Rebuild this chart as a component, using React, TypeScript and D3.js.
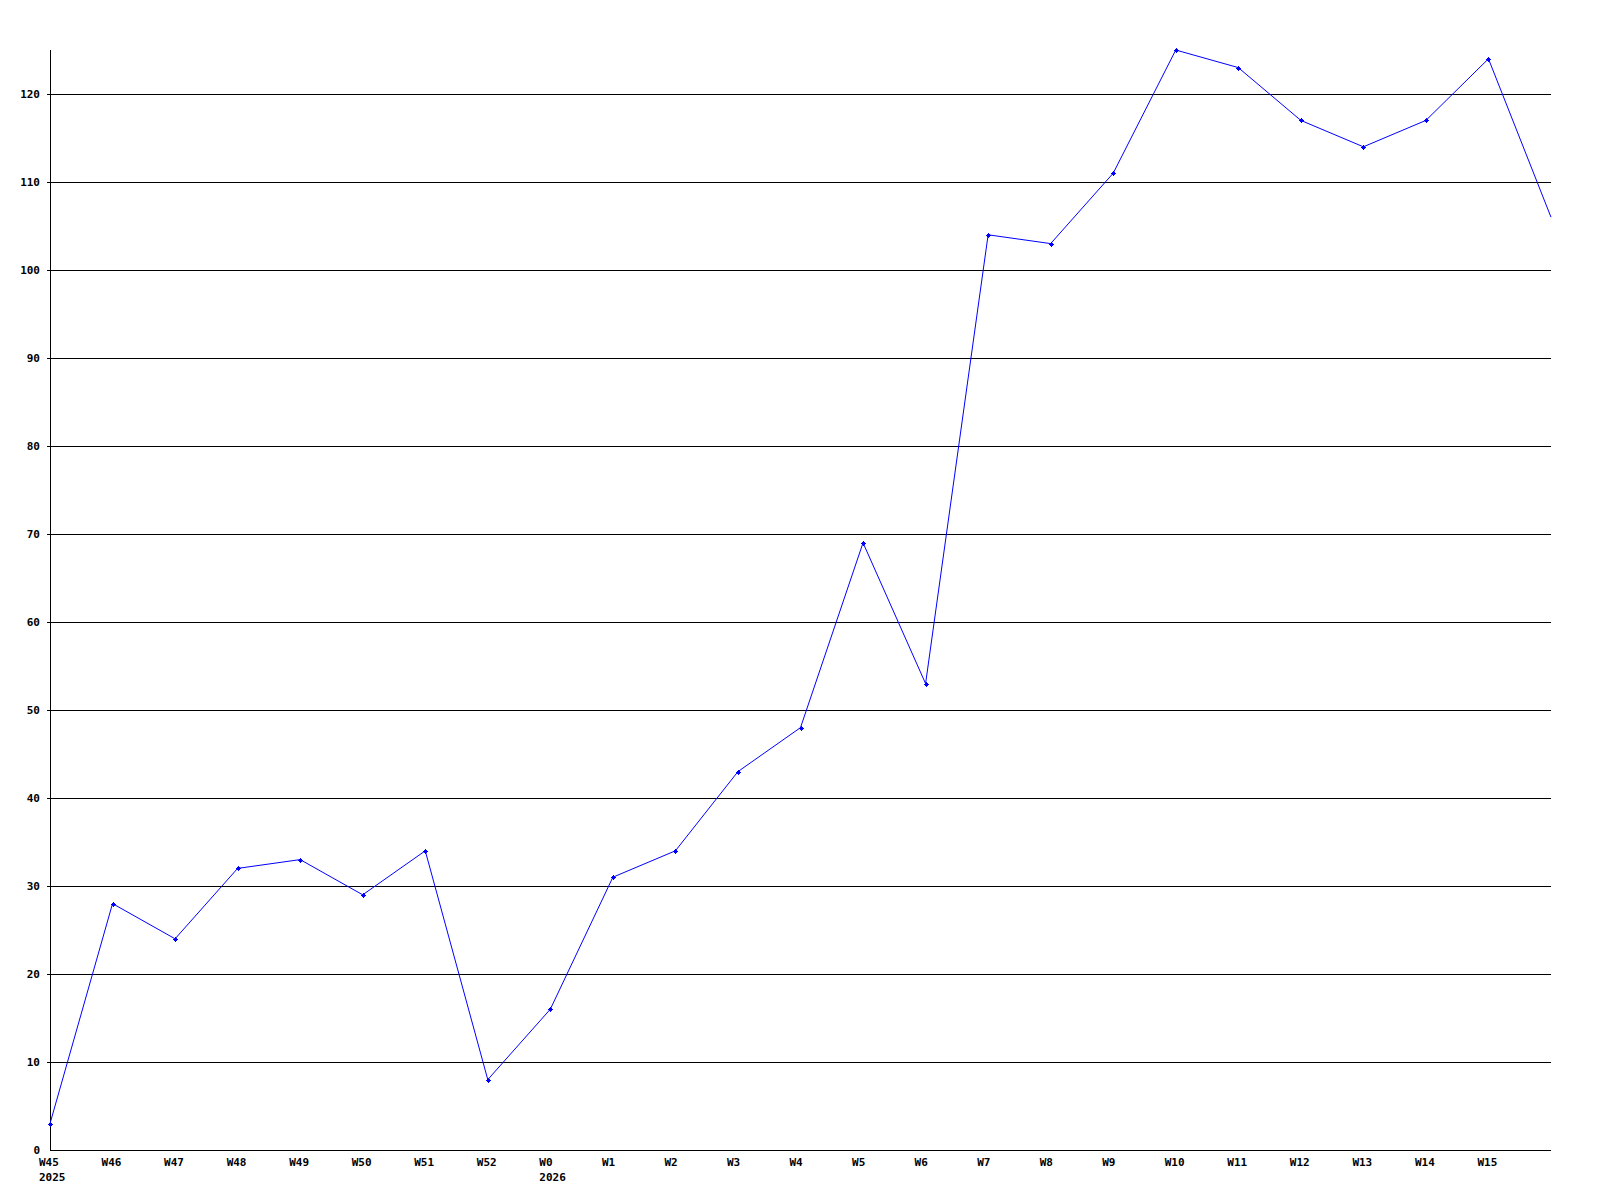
import React from 'react';
import * as d3 from 'd3';

// weekly counts
const weeks = ['W45', 'W46', 'W47', 'W48', 'W49', 'W50', 'W51', 'W52', 'W0', 'W1', 'W2', 'W3', 'W4', 'W5', 'W6', 'W7', 'W8', 'W9', 'W10', 'W11', 'W12', 'W13', 'W14', 'W15', ''];
const years = ['2025', '', '', '', '', '', '', '', '2026', '', '', '', '', '', '', '', '', '', '', '', '', '', '', '', ''];
const values = [3, 28, 24, 32, 33, 29, 34, 8, 16, 31, 34, 43, 48, 69, 53, 104, 103, 111, 125, 123, 117, 114, 117, 124, 106];
const yTicks = [0, 10, 20, 30, 40, 50, 60, 70, 80, 90, 100, 110, 120];

const App = () => {
  const width = 1600, height = 1200;
  const margin = {top: 50, right: 49, bottom: 50, left: 50};

  const x = d3.scaleLinear()
    .domain([0, values.length - 1])
    .range([margin.left, width - margin.right]);
  const y = d3.scaleLinear()
    .domain([0, 125])
    .range([height - margin.bottom, margin.top]);

  const path = d3.line<number>()
    .x((d, i) => x(i))
    .y(d => y(d))(values);

  const font = {fontFamily: '"DejaVu Sans Mono", monospace', fontWeight: 'bold' as const, fontSize: 11};

  return (
    <svg width={width} height={height} style={{position: 'absolute', left: 0, top: 0, background: '#fff'}}>
      {/* grid lines */}
      {yTicks.filter(t => t > 0).map(t => (
        <line key={'g' + t} x1={margin.left - 3} x2={width - margin.right} y1={y(t) + 0.5} y2={y(t) + 0.5} stroke="#000" strokeWidth={1} shapeRendering="crispEdges" />
      ))}
      {yTicks.map(t => (
        <text key={'t' + t} x={40} y={y(t)} dy="0.35em" textAnchor="end" {...font} fill="#000">{t}</text>
      ))}
      {/* axes */}
      <line x1={margin.left + 0.5} x2={margin.left + 0.5} y1={margin.top} y2={height - margin.bottom} stroke="#000" shapeRendering="crispEdges" />
      <line x1={margin.left} x2={width - margin.right} y1={height - margin.bottom + 0.5} y2={height - margin.bottom + 0.5} stroke="#000" shapeRendering="crispEdges" />
      {weeks.map((w, i) => (
        <g key={'x' + i} {...font} fill="#000">
          <text x={x(i) - 11} y={1162} dy="0.35em">{w}</text>
          {years[i] && <text x={x(i) - 11} y={1177} dy="0.35em">{years[i]}</text>}
        </g>
      ))}
      {/* series */}
      <path d={path || ''} fill="none" stroke="#0000ff" strokeWidth={1} />
      {values.slice(0, values.length - 1).map((v, i) => (
        <g key={'p' + i} fill="#0000ff" stroke="#0000ff" strokeWidth={1} shapeRendering="crispEdges">
          <rect x={Math.round(x(i)) - 1} y={Math.round(y(v)) - 1} width={3} height={3} stroke="none" />
          <rect x={Math.round(x(i)) - 2} y={Math.round(y(v))} width={5} height={1} stroke="none" />
          <rect x={Math.round(x(i))} y={Math.round(y(v)) - 2} width={1} height={5} stroke="none" />
        </g>
      ))}
    </svg>
  );
};

export default App;
